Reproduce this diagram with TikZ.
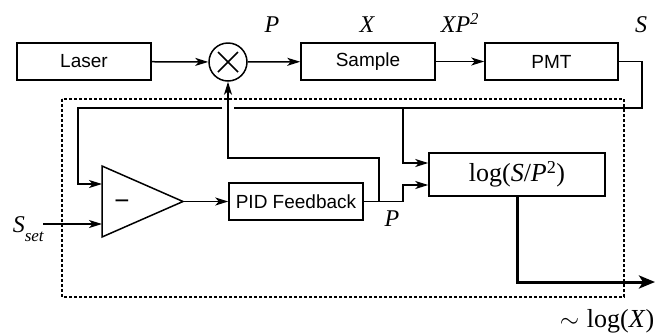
\documentclass[tikz,border=0pt]{standalone}
\usepackage{fontspec}
\setmainfont{Liberation Serif}
\setsansfont{Liberation Sans}
\usetikzlibrary{arrows.meta,calc}
\begin{document}
\begin{tikzpicture}[x=1pt,y=-1pt,
  line width=1.5pt,
  blk/.style={draw,rectangle,minimum height=37pt,inner sep=0pt,
    font=\fontsize{19}{22}\selectfont\sffamily},
  arr/.style={-{Stealth[length=13pt,width=8pt,inset=3.5pt]}},
  thickarr/.style={line width=3pt,-{Stealth[length=16pt,width=13pt,inset=4pt]}},
  lbl/.style={font=\fontsize{24}{28}\selectfont\itshape,inner sep=0pt,anchor=base},
  biglbl/.style={font=\fontsize{26}{30}\selectfont,inner sep=0pt},
  dashbox/.style={line width=1.5pt,dash pattern=on 3pt off 2pt}
]
\useasboundingbox (0,0) rectangle (655,333);

% blocks
\node[blk,minimum width=134pt] (laser) at (84,61.5) {Laser};
\node[draw,circle,minimum size=38pt,inner sep=0pt] (mult) at (228,62) {};
\draw ($(mult)+(-10,-10)$) -- ($(mult)+(10,10)$);
\draw ($(mult)+(-10,10)$) -- ($(mult)+(10,-10)$);
\node[blk,minimum width=134pt] (sample) at (368,61.5) {Sample};
\node[blk,minimum width=133pt] (pmt) at (551.5,61.5) {PMT};
\node[blk,minimum width=134pt] (pid) at (296,201.5) {PID Feedback};
\node[draw,rectangle,minimum width=176pt,minimum height=43pt,inner sep=0pt,
  font=\fontsize{26}{30}\selectfont] (logb) at (517,174.5)
  {log(\textit{S}/\textit{P}\raisebox{-1.5pt}{\textsuperscript{2}})};

% comparator triangle
\coordinate (tA) at (102,166);
\coordinate (tB) at (102,237);
\coordinate (tC) at (183,201.5);
\draw[line join=miter] (tA) -- (tB) -- (tC) -- cycle;
\coordinate (tin1) at (102,184);
\coordinate (tin2) at (102,224);
\node[font=\fontsize{26}{30}\selectfont\sffamily,inner sep=0pt,anchor=base] (minus) at (122,209) {−};

% dashed enclosure
\draw[dashbox] (62,99) rectangle (624,297);

% forward chain
\draw[arr] (laser) -- (mult);
\draw[arr] (mult) -- (sample);
\draw[arr] (sample) -- (pmt);

% S signal back to comparator (broken at the crossing)
\coordinate (sTR) at (642,108);
\coordinate (gapR) at (234,108);
\coordinate (gapL) at (222,108);
\coordinate (sTL) at (78,108);
\draw (pmt.east) -| (sTR) -- (gapR);
\draw[arr] (gapL) -- (sTL) |- (tin1);

% S branch to log box
\coordinate (sBr) at (403,108);
\draw[arr] (sBr) |- ($(logb.west)+(0,-11.5)$);

% setpoint
\coordinate (sset) at (43,224);
\draw[arr] (sset) -- (tin2);

% comparator to PID
\draw[arr] (tC) -- (pid.west);

% PID output to log box
\coordinate (pOut) at (403,201.5);
\draw[arr] (pid.east) -- (pOut) |- ($(logb.west)+(0,10.5)$);

% feedback to multiplier
\coordinate (fbB) at (379,201.5);
\coordinate (fbT) at (379,158);
\draw[arr] (fbB) -- (fbT) -| (mult.south);

% thick output
\coordinate (outC) at (517,282);
\coordinate (outE) at (655,282);
\draw[thickarr] (logb.south) -- (outC) -- (outE);

% labels
\node[lbl] (lP) at (272,32) {P};
\node[lbl] (lX) at (367,32) {X};
\node[lbl] (lXP) at (460,32) {XP\raisebox{-1.5pt}{\textsuperscript{2}}};
\node[lbl] (lS) at (641,32) {S};
\node[lbl] (lP2) at (392,226) {P};
\node[lbl,anchor=base west] (lSset) at (12,232)
  {S\raisebox{-9pt}{\fontsize{17}{20}\selectfont set}};
\node[biglbl,anchor=base west] (lout) at (559,327)
  {$\sim$\hspace{0.3em}log(\textit{X})};
\end{tikzpicture}
\end{document}
